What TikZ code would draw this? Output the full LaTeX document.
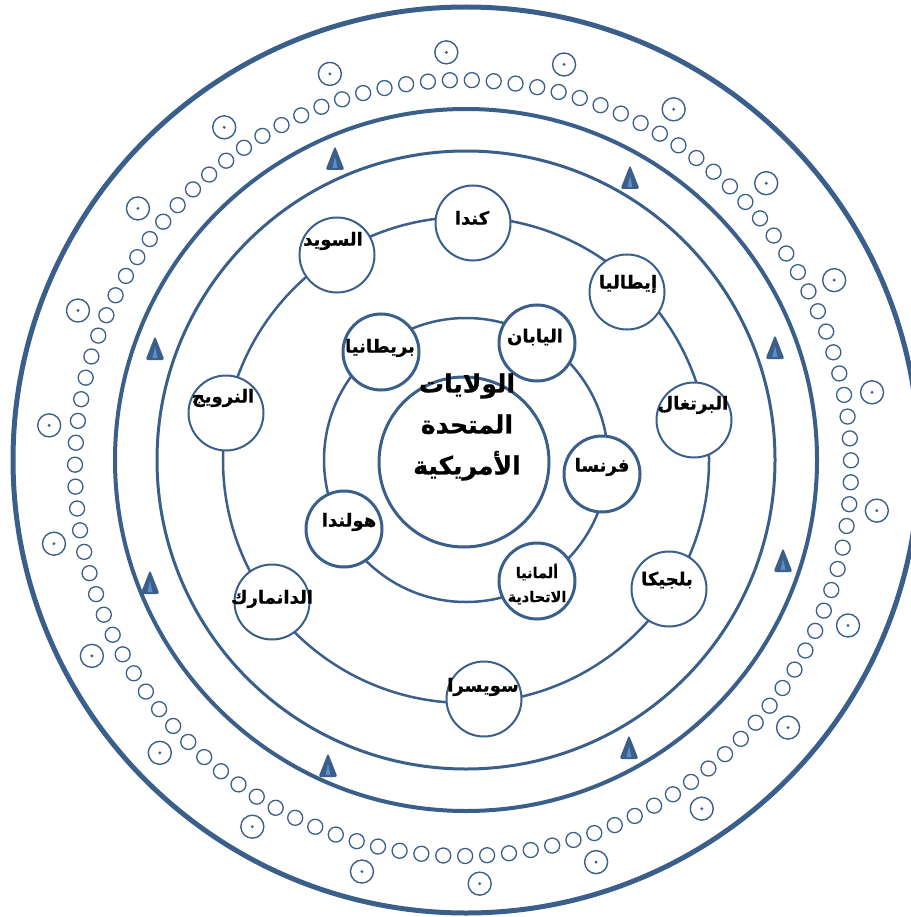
\documentclass[tikz,border=0pt]{standalone}
\usepackage{fontspec}
\newfontfamily\arabicfont[Script=Arabic, BoldFeatures={FakeBold=0.8}]{DejaVu Sans}
\TeXXeTstate=1
\usetikzlibrary{calc}
\definecolor{lineblue}{HTML}{3A5F8B}
\definecolor{trilight}{HTML}{5E8CC8}
\newcommand\artxt[1]{\beginR #1\endR}
\begin{document}
\begin{tikzpicture}[x=1pt,y=-1pt,
  cnode/.style={circle, draw=lineblue, fill=white, line width=2pt, minimum size=75pt, inner sep=0pt},
  inode/.style={cnode, line width=3pt, minimum size=76pt},
  usanode/.style={cnode, line width=3pt, minimum size=170pt},
  ctext/.style={font=\arabicfont\bfseries\fontsize{18}{21}\selectfont, inner sep=0pt, text=black, align=center},
  stext/.style={font=\arabicfont\bfseries\fontsize{14.5}{24}\selectfont, inner sep=0pt, text=black, align=center},
  btext/.style={font=\arabicfont\bfseries\fontsize{25}{41}\selectfont, inner sep=0pt, text=black, align=center},
  smallring/.style={draw=lineblue, line width=1.3pt},
  bigring/.style={draw=lineblue, line width=1.4pt},
  wtri/.pic={
    \fill[lineblue, rounded corners=2.5pt] (-9.5,12) -- (0,-12) -- (9.5,12) -- cycle;
    \fill[trilight] (-2.5,10) -- (0,-1) -- (2.5,10) -- cycle;
  }
]
\useasboundingbox (0,0) rectangle (910,917);
\coordinate (O) at (466,460);
\coordinate (D) at (463,468);
% main rings
\draw[draw=lineblue, line width=5pt] (O) circle[radius=453pt];
\draw[draw=lineblue, line width=4pt] (O) circle[radius=351pt];
\draw[draw=lineblue, line width=3pt] (O) circle[radius=309pt];
\draw[draw=lineblue, line width=2.5pt] (O) circle[radius=243pt];
\draw[draw=lineblue, line width=2.5pt] (O) circle[radius=142pt];
% chain of small circles
\foreach \i in {0,...,110}{
  \draw[smallring] ($(D)+({88.7+\i*3.243243}:388pt)$) circle[radius=7.5pt];
}
% big dotted circles
\foreach \i in {0,...,21}{
  \draw[bigring] ($(D)+({92.3-\i*16.3636}:416pt)$) circle[radius=11.5pt];
  \fill[lineblue] ($(D)+({92.3-\i*16.3636}:416pt)$) circle[radius=1.6pt];
}
% triangles
\pic at (630,177) {wtri};
\pic at (775,347) {wtri};
\pic at (783,560) {wtri};
\pic at (629,747) {wtri};
\pic at (328,765) {wtri};
\pic at (150,582) {wtri};
\pic at (155,348) {wtri};
\pic at (335,158) {wtri};
% outer country ring
\node[cnode] (kanada) at (473,223) {};
\node[cnode] (swed) at (337,255) {};
\node[cnode] (ital) at (627,292) {};
\node[cnode] (port) at (694,420) {};
\node[cnode] (belg) at (669,589) {};
\node[cnode] (swiss) at (484,699) {};
\node[cnode] (denm) at (272,602) {};
\node[cnode] (norw) at (226,413) {};
\node[ctext] (kanadaT) at (472,218) {\artxt{كندا}};
\node[ctext] (swedT) at (333,241) {\artxt{السويد}};
\node[ctext] (italT) at (628,284) {\artxt{إيطاليا}};
\node[ctext] (portT) at (693,405) {\artxt{البرتغال}};
\node[ctext] (belgT) at (667,580) {\artxt{بلجيكا}};
\node[ctext] (swissT) at (483,687) {\artxt{سويسرا}};
\node[ctext] (denmT) at (272,599) {\artxt{الدانمارك}};
\node[ctext] (norwT) at (223,398) {\artxt{النرويج}};
% inner country ring
\node[inode] (brit) at (381,352) {};
\node[inode] (japan) at (537,343) {};
\node[inode] (france) at (602,474) {};
\node[inode] (germ) at (537,581) {};
\node[inode] (holl) at (344,529) {};
\node[ctext] (britT) at (380,348) {\artxt{بريطانيا}};
\node[ctext] (japanT) at (535,337) {\artxt{اليابان}};
\node[ctext] (franceT) at (602,467) {\artxt{فرنسا}};
\node[ctext] (hollT) at (349,522) {\artxt{هولندا}};
\node[stext] (germT) at (537,584) {\artxt{ألمانيا}\\\artxt{الاتحادية}};
% centre
\node[usanode] (usa) at (464,462) {};
\node[btext] (usaT) at (467,427) {\artxt{الولايات}\\\artxt{المتحدة}\\\artxt{الأمريكية}};
\end{tikzpicture}
\end{document}
